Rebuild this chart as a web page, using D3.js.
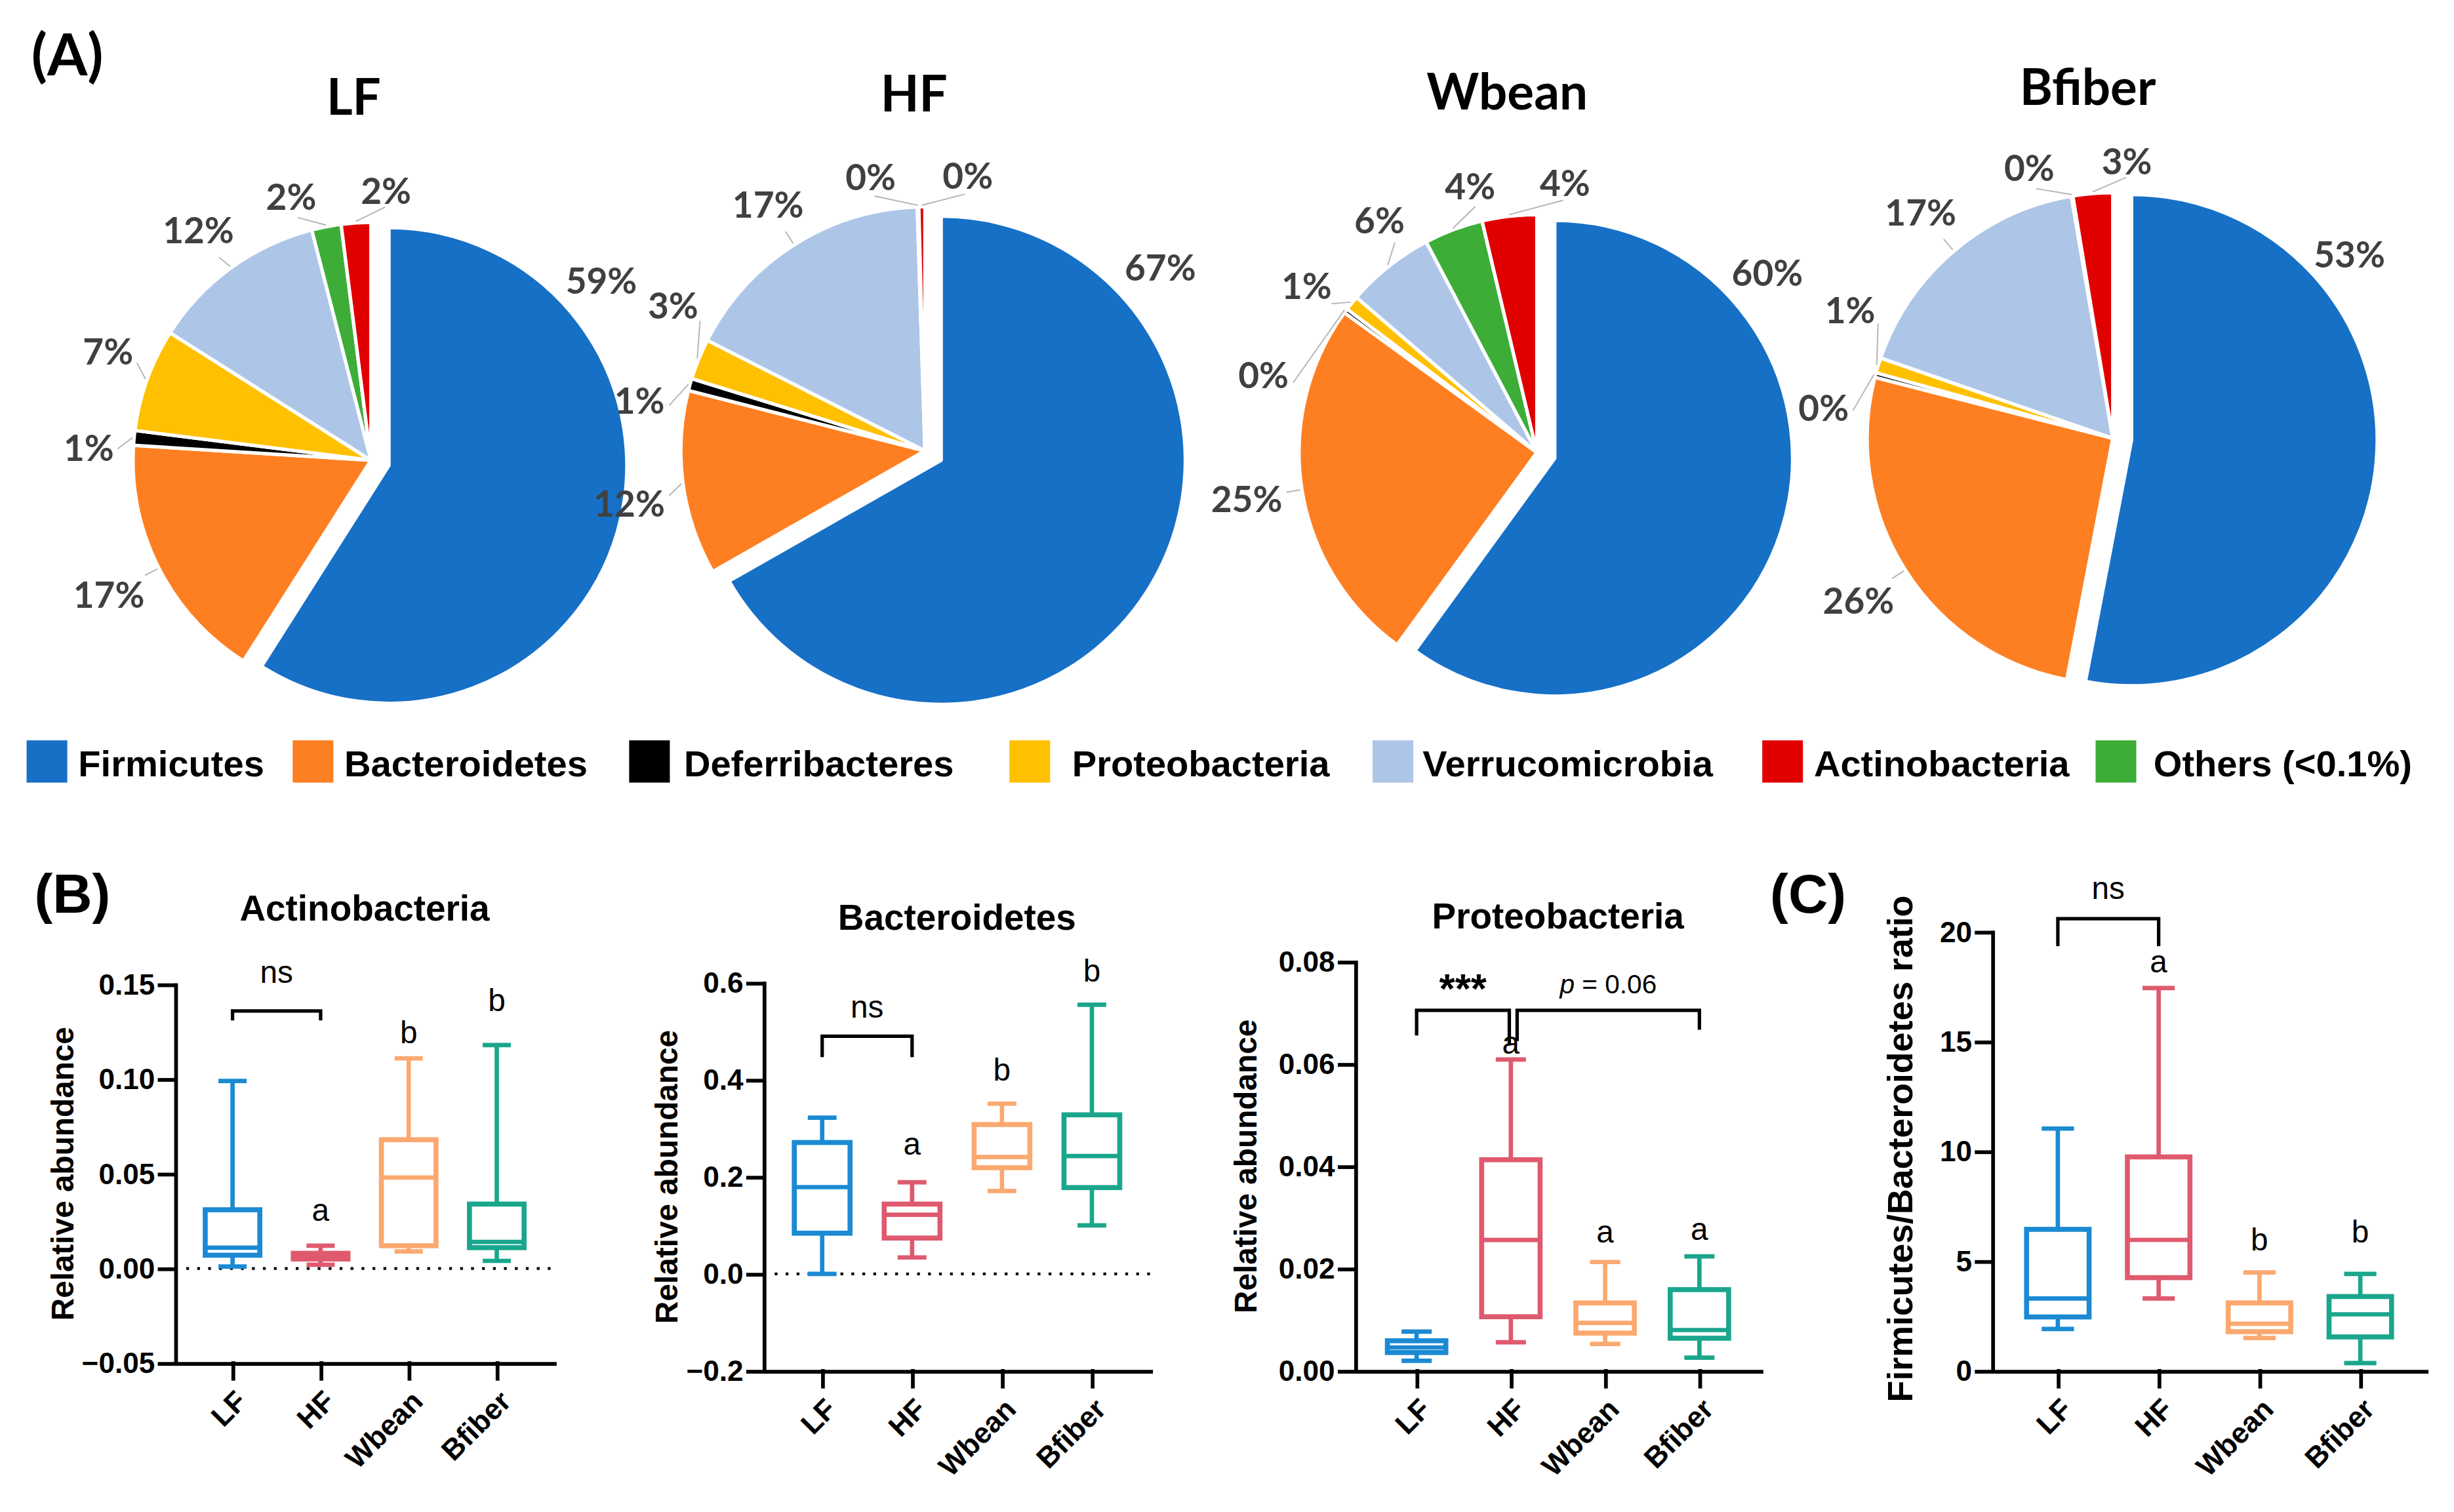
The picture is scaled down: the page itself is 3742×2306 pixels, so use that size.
<!DOCTYPE html>
<html>
<head>
<meta charset="utf-8">
<script src="https://cdn.jsdelivr.net/npm/d3@7"></script>
<style>
  body { margin: 0; background: #fff; }
  svg { display: block; }
</style>
</head>
<body>
<svg id="chart"></svg>
<script>
// ---------- data ----------
var groups = ["LF", "HF", "Wbean", "Bfiber"];

// pie slices, clockwise from 12 o'clock
var phyla = ["Firmicutes", "Bacteroidetes", "Deferribacteres", "Proteobacteria", "Verrucomicrobia", "Others (<0.1%)", "Actinobacteria"];
var phylaColors = ["#1670c6", "#fe7f22", "#000000", "#ffc000", "#adc6e8", "#3dad38", "#e00000"];
var legendOrder = ["Firmicutes", "Bacteroidetes", "Deferribacteres", "Proteobacteria", "Verrucomicrobia", "Actinobacteria", "Others (<0.1%)"];

// relative abundance (%) per diet, same order as phyla
var pieLF = [59, 17, 1, 7, 12, 2, 2];
var pieHF = [66.7, 12.2, 0.8, 2.7, 17.0, 0.1, 0.4];
var pieWbean = [60, 25, 0.3, 1.0, 6, 4, 3.7];
var pieBfiber = [53, 26, 0.3, 1.0, 17, 0.1, 2.6];

// box plots: [min, q1, median, q3, max] for LF, HF, Wbean, Bfiber
var actino = [[0.001, 0.007, 0.011, 0.031, 0.099], [0.002, 0.005, 0.007, 0.008, 0.012],
              [0.009, 0.012, 0.048, 0.068, 0.111], [0.004, 0.011, 0.014, 0.034, 0.118]];
var bacter = [[0.0, 0.084, 0.179, 0.271, 0.322], [0.034, 0.074, 0.122, 0.144, 0.189],
              [0.171, 0.219, 0.241, 0.308, 0.351], [0.10, 0.178, 0.243, 0.328, 0.555]];
var proteo = [[0.002, 0.0036, 0.0046, 0.0059, 0.0077], [0.0056, 0.0106, 0.0256, 0.0413, 0.0609],
              [0.0053, 0.0074, 0.0094, 0.0133, 0.0213], [0.0026, 0.0064, 0.008, 0.0159, 0.0224]];
var fbRatio = [[1.91, 2.46, 3.3, 6.45, 11.04], [3.3, 4.25, 5.97, 9.75, 17.44],
               [1.5, 1.79, 2.15, 3.1, 4.49], [0.36, 1.55, 2.58, 3.39, 4.42]];
var groupColors = ["#1b8ad3", "#df5a6e", "#fba970", "#1aa68c"];

// tick values
var actinoTicks = [-0.05, 0, 0.05, 0.10, 0.15];
var bacterTicks = [-0.2, 0, 0.2, 0.4, 0.6];
var proteoTicks = [0, 0.02, 0.04, 0.06, 0.08];
var ratioTicks = [0, 5, 10, 15, 20];

// letters above boxes and where they sit (data units)
var actinoLetters = ["", "a", "b", "b"], actinoLetterY = [0, 0.025, 0.119, 0.136];
var bacterLetters = ["", "a", "b", "b"], bacterLetterY = [0, 0.246, 0.398, 0.603];
var proteoLetters = ["", "a", "a", "a"], proteoLetterY = [0, 0.062, 0.0251, 0.0256];
var ratioLetters = ["", "a", "b", "b"], ratioLetterY = [0, 18.16, 5.5, 5.85];

// comparison brackets
var actinoBrackets = [{ from: "LF", to: "HF", y: 0.136, leg1: 0.131, leg2: 0.131, text: "ns", ty: 0.151 }];
var bacterBrackets = [{ from: "LF", to: "HF", y: 0.49, leg1: 0.447, leg2: 0.447, text: "ns", ty: 0.528 }];
var proteoBrackets = [
  { from: "LF", to: "HF", y: 0.0705, leg1: 0.0656, leg2: 0.0636, text: "***", ty: 0.0744, shift2: -1 },
  { from: "HF", to: "Bfiber", y: 0.0705, leg1: 0.0645, leg2: 0.0667, text: "p = 0.06", ty: 0.0738, shift1: 4 }
];
var ratioBrackets = [{ from: "LF", to: "HF", y: 20.6, leg1: 19.35, leg2: 19.35, text: "ns", ty: 21.5 }];

// ---------- setup ----------
var W = 1568, H = 966;
var svg = d3.select("#chart")
  .attr("width", 3742)
  .attr("height", 2306)
  .attr("viewBox", `0 0 ${W} ${H}`);

svg.append("rect").attr("width", W).attr("height", H).attr("fill", "#fff");

var arialish = "'Liberation Sans', Arial, sans-serif";
var calibriish = "Lato, 'Open Sans', sans-serif";

// ---------- (A) pies ----------
svg.append("text")
  .attr("x", 20).attr("y", 48)
  .attr("font-family", calibriish).attr("font-weight", "bold").attr("font-size", 37)
  .text("(A)");

var pieLayout = [
  { cx: 237, cy: 294, r: 152, tx: 226, ty: 73 },
  { cx: 591, cy: 288, r: 156, tx: 584, ty: 71 },
  { cx: 982, cy: 289, r: 152, tx: 963, ty: 70 },
  { cx: 1350, cy: 280, r: 157, tx: 1334, ty: 67 }
];
var pieData = [pieLF, pieHF, pieWbean, pieBfiber];

var pie = d3.pie().sort(null);
var deg = Math.PI / 180;

pieData.forEach(function(vals, p) {
  var L = pieLayout[p];
  var arcs = pie(vals);
  var arc = d3.arc().innerRadius(0).outerRadius(L.r);
  var g = svg.append("g").attr("transform", `translate(${L.cx},${L.cy})`);

  svg.append("text")
    .attr("x", L.tx).attr("y", L.ty)
    .attr("text-anchor", "middle")
    .attr("font-family", calibriish).attr("font-weight", "bold").attr("font-size", 32)
    .text(groups[p]);

  g.selectAll("path.slice")
    .data(arcs)
    .enter()
    .append("path")
    .attr("class", "slice")
    .attr("d", arc)
    .attr("fill", (d, i) => phylaColors[i])
    .attr("stroke", "#fff")
    .attr("stroke-width", 2.2)
    .attr("stroke-linejoin", "round")
    .attr("transform", function(d, i) {
      if (i !== 0) return null;
      var m = (d.startAngle + d.endAngle) / 2;
      return `translate(${Math.sin(m) * 12},${-Math.cos(m) * 12})`;
    });

  // label angles: the big slice goes top right, small ones get spread apart
  var ang = arcs.map(d => (d.startAngle + d.endAngle) / 2);
  ang[0] = 52 * deg;
  var sep = 20 * deg;
  for (var it = 0; it < 200; it++) {
    for (var k = 1; k < ang.length - 1; k++) {
      var gap = ang[k + 1] - ang[k];
      if (gap < sep) {
        ang[k] -= (sep - gap) / 2;
        ang[k + 1] += (sep - gap) / 2;
      }
    }
  }

  var pad = 12, halfH = 8;
  arcs.forEach(function(d, i) {
    var a = ang[i];
    var t = g.append("text")
      .attr("text-anchor", "middle")
      .attr("dominant-baseline", "central")
      .attr("font-family", calibriish).attr("font-weight", "bold").attr("font-size", 23)
      .attr("fill", "#404040")
      .text(Math.round(d.value) + "%");
    var w = t.node().getComputedTextLength();
    var dist = L.r + pad + (w / 2) * Math.abs(Math.sin(a)) + halfH * Math.abs(Math.cos(a));
    t.attr("x", Math.sin(a) * dist).attr("y", -Math.cos(a) * dist);
    if (i > 0) {
      var m = (d.startAngle + d.endAngle) / 2;
      g.append("line")
        .attr("x1", Math.sin(m) * (L.r + 1)).attr("y1", -Math.cos(m) * (L.r + 1))
        .attr("x2", Math.sin(a) * (L.r + pad - 2)).attr("y2", -Math.cos(a) * (L.r + pad - 2))
        .attr("stroke", "#b4b4b4").attr("stroke-width", 0.8);
    }
  });
});

// legend
var legendX = [17, 187, 402, 645, 877, 1126, 1339];
var legendTextX = [50, 220, 437, 685, 909, 1159, 1376];
var legend = svg.append("g");
legendOrder.forEach(function(name, i) {
  var ci = phyla.indexOf(name);
  legend.append("rect")
    .attr("x", legendX[i]).attr("y", 473)
    .attr("width", 26).attr("height", 27)
    .attr("fill", phylaColors[ci]);
  legend.append("text")
    .attr("x", legendTextX[i]).attr("y", 496)
    .attr("font-family", arialish).attr("font-weight", "bold").attr("font-size", 23.5)
    .text(name);
});

// ---------- (B) and (C) box plots ----------
svg.append("text")
  .attr("x", 22).attr("y", 583)
  .attr("font-family", arialish).attr("font-weight", "bold").attr("font-size", 35)
  .text("(B)");
svg.append("text")
  .attr("x", 1131).attr("y", 583)
  .attr("font-family", arialish).attr("font-weight", "bold").attr("font-size", 35)
  .text("(C)");

function boxPanel(cfg) {
  var x = d3.scalePoint().domain(groups).range([cfg.left, cfg.right]).padding(0.65);
  var y = d3.scaleLinear().domain(cfg.domain).range([cfg.bottom, cfg.top]);
  var step = x.step();
  var g = svg.append("g");

  if (cfg.title) {
    g.append("text")
      .attr("x", (cfg.left + cfg.right) / 2).attr("y", cfg.titleY)
      .attr("text-anchor", "middle")
      .attr("font-family", arialish).attr("font-weight", "bold").attr("font-size", 23)
      .text(cfg.title);
  }

  // y label
  g.append("text")
    .attr("transform", `translate(${cfg.ylabelX},${cfg.ylabelY || (cfg.top + cfg.bottom) / 2}) rotate(-90)`)
    .attr("text-anchor", "middle")
    .attr("font-family", arialish).attr("font-weight", "bold").attr("font-size", cfg.ylabelSize || 20)
    .text(cfg.ylabel);

  // dotted zero line
  if (cfg.domain[0] < 0) {
    g.append("line")
      .attr("x1", cfg.left + 7).attr("x2", cfg.right)
      .attr("y1", y(0)).attr("y2", y(0))
      .attr("stroke", "#000").attr("stroke-width", 1.8)
      .attr("stroke-dasharray", "1.8,5.2");
  }

  var leftAxis = d3.axisLeft(y)
    .tickValues(cfg.ticks)
    .tickFormat(d3.format(cfg.fmt))
    .tickSize(10).tickSizeOuter(0).tickPadding(3);
  var yAxis = g.append("g")
    .attr("transform", `translate(${cfg.left},0)`)
    .call(leftAxis);

  var bottomAxis = d3.axisBottom(x).tickSize(10).tickSizeOuter(0);
  var xAxis = g.append("g")
    .attr("transform", `translate(0,${cfg.bottom})`)
    .call(bottomAxis);

  [yAxis, xAxis].forEach(function(ax) {
    ax.attr("font-family", arialish).attr("font-weight", "bold").attr("font-size", 18.5);
    ax.selectAll("path, line").attr("stroke-width", 2.4).attr("stroke-linecap", "square");
    ax.selectAll("text").attr("fill", "#000");
  });
  xAxis.selectAll("text")
    .attr("x", 0).attr("y", 0).attr("dy", "0.35em")
    .attr("text-anchor", "end")
    .attr("transform", "translate(5,21) rotate(-45)");

  // boxes
  var bw = step * 0.62, cw = step * 0.32;
  cfg.data.forEach(function(s, i) {
    var cx = x(groups[i]);
    var col = groupColors[i];
    var b = g.append("g").attr("stroke", col).attr("fill", "none").attr("stroke-width", 2.8);
    b.append("line").attr("x1", cx).attr("x2", cx).attr("y1", y(s[0])).attr("y2", y(s[1]));
    b.append("line").attr("x1", cx).attr("x2", cx).attr("y1", y(s[3])).attr("y2", y(s[4]));
    b.append("line").attr("x1", cx - cw / 2).attr("x2", cx + cw / 2).attr("y1", y(s[0])).attr("y2", y(s[0]));
    b.append("line").attr("x1", cx - cw / 2).attr("x2", cx + cw / 2).attr("y1", y(s[4])).attr("y2", y(s[4]));
    b.append("rect")
      .attr("x", cx - bw / 2).attr("width", bw)
      .attr("y", y(s[3])).attr("height", y(s[1]) - y(s[3]))
      .attr("fill", "#fff").attr("stroke-width", 3.2);
    b.append("line").attr("x1", cx - bw / 2).attr("x2", cx + bw / 2).attr("y1", y(s[2])).attr("y2", y(s[2]))
      .attr("stroke-width", 2.8);

    if (cfg.letters[i]) {
      g.append("text")
        .attr("x", cx).attr("y", y(cfg.letterY[i]))
        .attr("text-anchor", "middle")
        .attr("font-family", arialish).attr("font-size", 20)
        .text(cfg.letters[i]);
    }
  });

  // brackets
  cfg.brackets.forEach(function(br) {
    var x1 = x(br.from) + (br.shift1 || 0), x2 = x(br.to) + (br.shift2 || 0);
    g.append("path")
      .attr("d", `M${x1},${y(br.leg1)}V${y(br.y)}H${x2}V${y(br.leg2)}`)
      .attr("fill", "none").attr("stroke", "#000").attr("stroke-width", 2.2);
    var t = g.append("text")
      .attr("x", (x1 + x2) / 2).attr("y", y(br.ty))
      .attr("text-anchor", "middle")
      .attr("font-family", arialish);
    if (br.text === "***") {
      t.attr("font-size", 26).attr("font-weight", "bold").attr("dy", "0.3em").text(br.text);
    } else if (br.text.indexOf("p =") === 0) {
      t.attr("font-size", 17);
      t.append("tspan").attr("font-style", "italic").text("p");
      t.append("tspan").text(br.text.slice(1));
    } else {
      t.attr("font-size", 20).text(br.text);
    }
  });
}

boxPanel({
  title: "Actinobacteria", titleY: 588, ylabel: "Relative abundance", ylabelX: 47,
  left: 112, right: 354, top: 629, bottom: 871,
  domain: [-0.05, 0.15], ticks: actinoTicks, fmt: ".2f",
  data: actino, letters: actinoLetters, letterY: actinoLetterY, brackets: actinoBrackets
});
boxPanel({
  title: "Bacteroidetes", titleY: 594, ylabel: "Relative abundance", ylabelX: 433,
  left: 488, right: 735, top: 628, bottom: 876,
  domain: [-0.2, 0.6], ticks: bacterTicks, fmt: ".1f",
  data: bacter, letters: bacterLetters, letterY: bacterLetterY, brackets: bacterBrackets
});
boxPanel({
  title: "Proteobacteria", titleY: 593, ylabel: "Relative abundance", ylabelX: 803,
  left: 866, right: 1125, top: 614.5, bottom: 876,
  domain: [0, 0.08], ticks: proteoTicks, fmt: ".2f",
  data: proteo, letters: proteoLetters, letterY: proteoLetterY, brackets: proteoBrackets
});
boxPanel({
  title: null, ylabel: "Firmicutes/Bacteroidetes ratio", ylabelX: 1222, ylabelY: 734, ylabelSize: 22.5,
  left: 1273, right: 1550, top: 595.4, bottom: 876,
  domain: [0, 20], ticks: ratioTicks, fmt: "d",
  data: fbRatio, letters: ratioLetters, letterY: ratioLetterY, brackets: ratioBrackets
});
</script>
</body>
</html>
